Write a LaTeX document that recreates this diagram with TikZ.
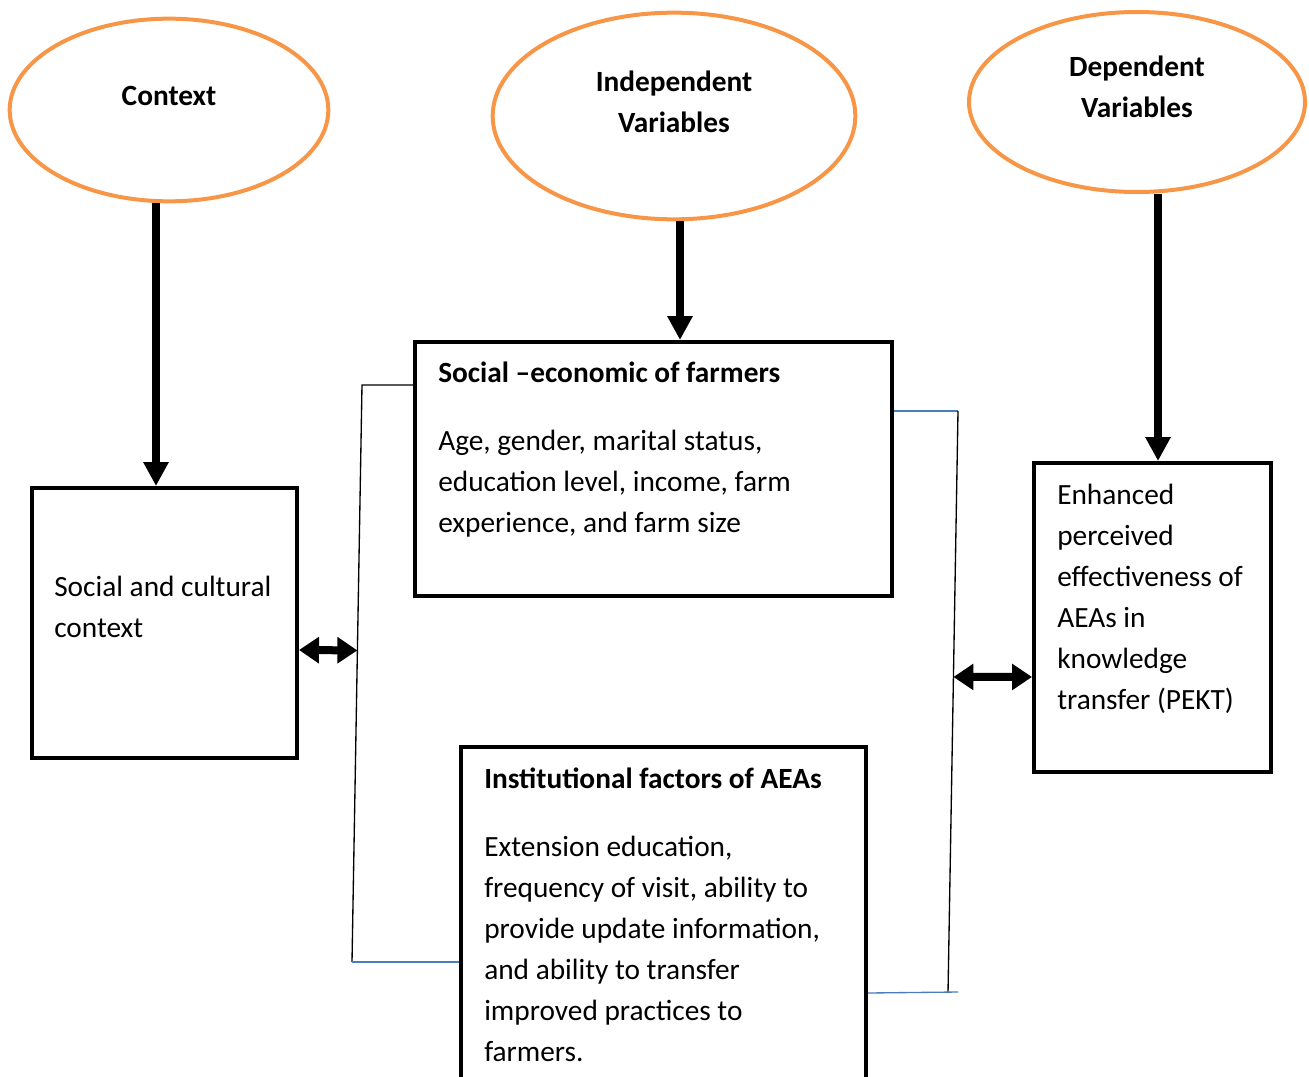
\documentclass[tikz,border=0pt]{standalone}
\usepackage{fontspec}
\setmainfont{Carlito}
\usetikzlibrary{arrows.meta,shapes.geometric,calc,positioning}
\definecolor{ovalorange}{HTML}{F79646}
\definecolor{linkblue}{HTML}{4A7EBB}

\begin{document}
\begin{tikzpicture}[x=0.75pt,y=-0.75pt,
  oval/.style={ellipse,draw=ovalorange,line width=3pt,inner sep=0pt},
  ovaltext/.style={font=\fontsize{22}{30.75}\selectfont\bfseries,align=center,yshift=10.5pt},
  box/.style={draw,line width=3pt,inner sep=0pt},
  boxtext/.style={anchor=north west,inner sep=0pt,align=left,font=\fontsize{22}{30.75}\selectfont},
  bigarrow/.style={line width=6pt,-{Triangle[width=18pt,length=18pt]}},
  twoway/.style={line width=6pt,{Triangle[width=19pt,length=15pt]}-{Triangle[width=19pt,length=15pt]}},
  bracket/.style={line width=1pt}]

\useasboundingbox (0,0) rectangle (1309,1077);
\clip (0,0) rectangle (1309,1077);

\node[oval,minimum width=239pt,minimum height=137pt] (ctx) at (169,110) [label={[ovaltext]center:Context}] {};
\node[oval,minimum width=272pt,minimum height=155pt] (indep) at (674,116) [label={[ovaltext]center:Independent\\Variables}] {};
\node[oval,minimum width=252pt,minimum height=135pt] (dep) at (1137,102) [label={[ovaltext,yshift=0.75pt]center:Dependent\\Variables}] {};

\node[box,minimum width=198.75pt,minimum height=202.5pt] (cult) at (164.5,623) {};
\node[box,minimum width=357.75pt,minimum height=190.5pt] (socio) at (653.5,469) {};
\node[box,minimum width=303.75pt,minimum height=264.75pt] (inst) at (663.5,923.5) {};
\node[box,minimum width=177.75pt,minimum height=231.75pt] (enh) at (1152.5,617.5) {};

\node[boxtext] (culttext) at (54,576) {Social and cultural\\context};
\node[boxtext,font=\fontsize{22}{30.75}\selectfont\bfseries] (sociotitle) at (438,362) {Social --economic of farmers};
\node[boxtext] (sociotext) at (438,430) {Age, gender, marital status,\\education level, income, farm\\experience, and farm size};
\node[boxtext,font=\fontsize{22}{30.75}\selectfont\bfseries] (insttitle) at (484,768) {Institutional factors of AEAs};
\node[boxtext] (insttext) at (484,836) {Extension education,\\frequency of visit, ability to\\provide update information,\\and ability to transfer\\improved practices to\\farmers.};
\node[boxtext] (enhtext) at (1057,484) {Enhanced\\perceived\\effectiveness of\\AEAs in\\knowledge\\transfer (PEKT)};

\draw[bigarrow] ([xshift=-9.75pt]ctx.south) -- ([xshift=-9.75pt]ctx.south |- cult.north);
\draw[bigarrow] ([xshift=4.5pt]indep.south) -- ([xshift=4.5pt]indep.south |- socio.north);
\draw[bigarrow] ([xshift=15.75pt]dep.south) -- ([xshift=15.75pt]dep.south |- enh.north);

\coordinate (lefttop) at (362,385);
\coordinate (leftbot) at (352,962);
\coordinate (righttop) at (958,411);
\coordinate (rightbot) at (948,993);
\coordinate (rightend) at (958,992);

\draw[bracket] (socio.west |- lefttop) -- (lefttop) -- (leftbot);
\draw[bracket,linkblue] (leftbot) -- (leftbot -| inst.west);
\draw[bracket,linkblue] (socio.east |- righttop) -- (righttop);
\draw[bracket] (righttop) -- (rightbot);
\draw[bracket,linkblue] (inst.east |- rightbot) -- (rightend);

\draw[twoway] ([yshift=-20.25pt]cult.east) -- ($(lefttop)!0.46!(leftbot)$);
\draw[twoway] ($(righttop)!0.457!(rightbot)$) -- ([yshift=-44.6pt]enh.west);

\end{tikzpicture}
\end{document}
